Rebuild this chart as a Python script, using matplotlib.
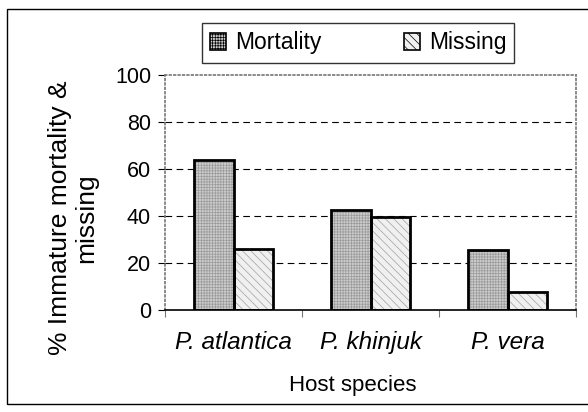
import matplotlib.pyplot as plt
import matplotlib.patches as mpatches
import numpy as np

plt.rcParams['font.family'] = ['Liberation Sans', 'DejaVu Sans']
plt.rcParams['hatch.linewidth'] = 0.5

# data
hosts = ['P. atlantica', 'P. khinjuk', 'P. vera']
mortality = [63.8, 42.7, 25.7]
missing = [26.1, 39.6, 7.8]
yticks = [0, 20, 40, 60, 80, 100]

fig = plt.figure(figsize=(5.88, 4.12), dpi=100)
ax = fig.add_axes([165 / 588, 1 - 310 / 412, 411 / 588, 235 / 412])

x = np.arange(len(hosts))
w = 1 / 3.5

# hatch fill first, then a thick black outline on top
ax.bar(x - w / 2, mortality, w, color='#cccccc', hatch='++++++', edgecolor='#9a9a9a', linewidth=0, zorder=2)
ax.bar(x + w / 2, missing, w, color='#f0f0f0', hatch='\\\\\\\\', edgecolor='#a0a0a0', linewidth=0, zorder=2)
ax.bar(x - w / 2, mortality, w, fill=False, edgecolor='black', linewidth=2, zorder=3)
ax.bar(x + w / 2, missing, w, fill=False, edgecolor='black', linewidth=2, zorder=3)

ax.set_xlim(-0.5, 2.5)
ax.set_ylim(0, 100)
ax.set_yticks(yticks)
ax.tick_params(axis='y', labelsize=15.5, length=5, width=0.8, pad=5)
ax.set_xticks(x)
ax.set_xticklabels(hosts, fontsize=17.5, style='italic')
ax.tick_params(axis='x', length=0, pad=15)
ax.set_xticks([-0.5, 0.5, 1.5, 2.5], minor=True)
ax.tick_params(axis='x', which='minor', length=5, width=0.8, color='#777777')

for yv in yticks[1:-1]:
    ax.axhline(yv, color='black', linewidth=0.8, dashes=(6, 4), zorder=1)

for side in ['top', 'right', 'left']:
    ax.spines[side].set_color('#777777')
    ax.spines[side].set_linestyle(':')
    ax.spines[side].set_linewidth(1.2)
ax.spines['bottom'].set_color('black')
ax.spines['bottom'].set_linewidth(1.2)

fig.text(353 / 588, 1 - 385 / 412, 'Host species', fontsize=16, ha='center', va='center')
fig.text(73 / 588, 1 - 218 / 412, '% Immature mortality &\nmissing', fontsize=19,
         rotation=90, ha='center', va='center', multialignment='center', linespacing=1.12)

h1 = mpatches.Patch(facecolor='#cccccc', hatch='++++++', edgecolor='black', linewidth=1.2)
h2 = mpatches.Patch(facecolor='#f0f0f0', hatch='\\\\\\\\', edgecolor='black', linewidth=1.2)
leg = fig.legend([h1, h2], ['Mortality', 'Missing'], loc='center',
                 bbox_to_anchor=(358 / 588, 1 - 43 / 412), ncol=2, fontsize=16.5,
                 frameon=True, fancybox=False, handlelength=0.7, handleheight=0.7,
                 handletextpad=0.4, columnspacing=3.6, borderpad=0.35, borderaxespad=0)
leg.get_frame().set_edgecolor('black')
leg.get_frame().set_linewidth(1)

# outer chart border
fig.patches.append(mpatches.Rectangle((7 / 588, 1 - 404 / 412), 600 / 588, 395 / 412,
                                      transform=fig.transFigure, fill=False,
                                      edgecolor='black', linewidth=1))

fig.savefig('out.png', dpi=100)
